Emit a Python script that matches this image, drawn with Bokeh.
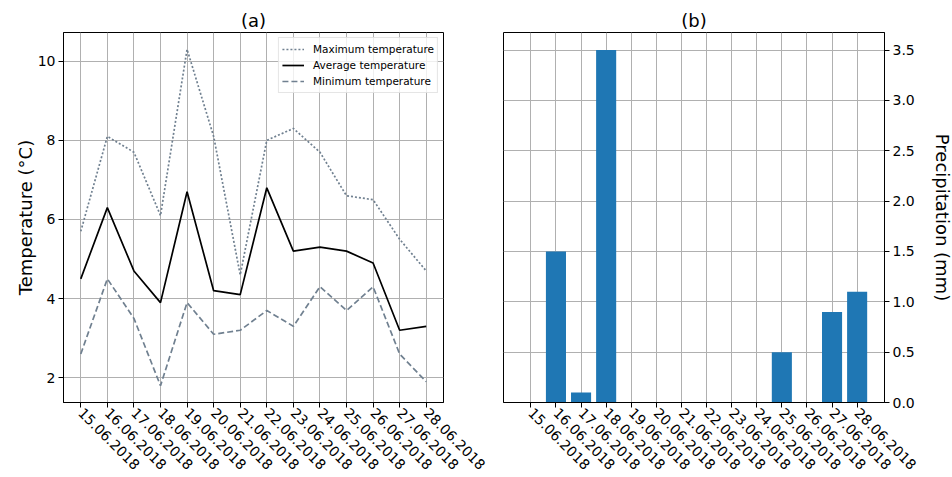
import math
from bokeh.plotting import figure
from bokeh.layouts import row
from bokeh.models import Range1d, FixedTicker, PrintfTickFormatter
from bokeh.embed import file_html
from bokeh.resources import INLINE

dates = ["15.06.2018", "16.06.2018", "17.06.2018", "18.06.2018", "19.06.2018",
         "20.06.2018", "21.06.2018", "22.06.2018", "23.06.2018", "24.06.2018",
         "25.06.2018", "26.06.2018", "27.06.2018", "28.06.2018"]
max_temp = [5.7, 8.1, 7.7, 6.1, 10.3, 8.1, 4.6, 8.0, 8.3, 7.7, 6.6, 6.5, 5.5, 4.7]
avg_temp = [4.5, 6.3, 4.7, 3.9, 6.7, 4.2, 4.1, 6.8, 5.2, 5.3, 5.2, 4.9, 3.2, 3.3]
min_temp = [2.6, 4.5, 3.5, 1.8, 3.9, 3.1, 3.2, 3.7, 3.3, 4.3, 3.7, 4.3, 2.6, 1.9]
precip = [0.0, 1.5, 0.1, 3.5, 0.0, 0.0, 0.0, 0.0, 0.0, 0.0, 0.5, 0.0, 0.9, 1.1]
temp_ticks = [2, 4, 6, 8, 10]
precip_ticks = [0.0, 0.5, 1.0, 1.5, 2.0, 2.5, 3.0, 3.5]

idx = list(range(len(dates)))
overrides = {i: d for i, d in enumerate(dates)}
FONT = "DejaVu Sans"
GRID = "#b0b0b0"


def style(p):
    p.outline_line_color = "black"
    p.outline_line_width = 1
    p.background_fill_color = "white"
    p.border_fill_color = "white"
    for ax in p.axis:
        ax.major_label_text_font = FONT
        ax.major_label_text_font_size = "14px"
        ax.major_label_text_color = "black"
        ax.major_tick_in = 0
        ax.major_tick_out = 5
        ax.minor_tick_line_color = None
        ax.axis_line_color = "black"
        ax.major_tick_line_color = "black"
        ax.major_label_standoff = 3
        ax.axis_label_text_font = FONT
        ax.axis_label_text_font_size = "18px"
        ax.axis_label_text_font_style = "normal"
        ax.axis_label_text_color = "black"
    for g in p.grid:
        g.grid_line_color = GRID
        g.grid_line_width = 1
    p.title.text_font = FONT
    p.title.text_font_size = "18px"
    p.title.text_font_style = "normal"
    p.title.text_color = "black"
    p.title.align = "center"
    p.title.standoff = 4
    p.xaxis.ticker = FixedTicker(ticks=idx)
    p.xaxis.major_label_overrides = overrides
    p.xaxis.major_label_orientation = -math.pi / 4


# (a) temperatures
p1 = figure(frame_width=380, frame_height=370, output_backend="svg",
            toolbar_location=None, title="(a)",
            x_range=Range1d(-0.65, 13.65), y_range=Range1d(1.375, 10.725),
            min_border_left=63, min_border_right=60, min_border_top=32,
            min_border_bottom=75)
p1.line(idx, max_temp, line_color="#708090", line_width=1.7, line_dash="2 2",
        legend_label="Maximum temperature")
p1.line(idx, avg_temp, line_color="black", line_width=1.7,
        legend_label="Average temperature")
p1.line(idx, min_temp, line_color="#708090", line_width=1.7, line_dash="6 3",
        legend_label="Minimum temperature")
style(p1)
p1.yaxis.ticker = FixedTicker(ticks=temp_ticks)
p1.yaxis.axis_label = "Temperature (°C)"
p1.yaxis.axis_label_standoff = -1
lg = p1.legend[0]
lg.location = "top_right"
lg.margin = 5
lg.padding = 3
lg.spacing = 0
lg.label_height = 16
lg.glyph_height = 16
lg.glyph_width = 22
lg.label_standoff = 9
lg.label_text_font = FONT
lg.label_text_font_size = "10.5px"
lg.label_text_color = "black"
lg.border_line_color = "#cccccc"
lg.border_line_width = 1
lg.background_fill_alpha = 0.8

# (b) precipitation
p2 = figure(frame_width=381, frame_height=370, output_backend="svg",
            toolbar_location=None, title="(b)", y_axis_location="right",
            x_range=Range1d(-1.09, 14.09), y_range=Range1d(0, 3.675),
            min_border_left=0, min_border_right=68, min_border_top=32,
            min_border_bottom=75)
p2.vbar(x=idx, top=precip, width=0.8, fill_color="#1f77b4", line_color=None)
style(p2)
p2.yaxis.ticker = FixedTicker(ticks=precip_ticks)
p2.yaxis.formatter = PrintfTickFormatter(format="%.1f")
p2.yaxis.axis_label = "Precipitation (mm)"
p2.yaxis.axis_label_standoff = 14

layout = row(p1, p2)
open("out.html", "w").write(file_html(layout, INLINE))
